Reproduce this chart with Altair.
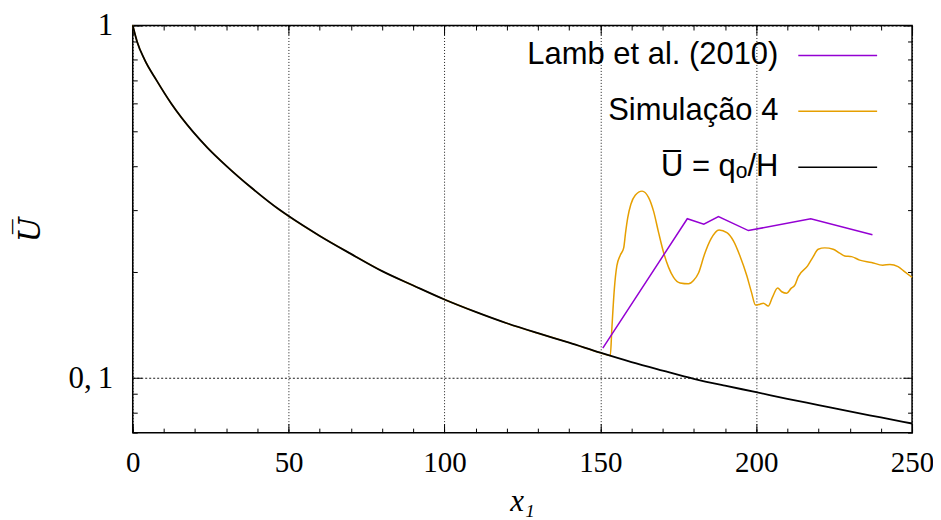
import altair as alt
import pandas as pd

# --- data ---
curve_x = [0, 1.4, 3.8, 7.6, 12.4, 19.3, 24, 30, 38, 47.1, 50, 60, 70, 80, 90, 100,
           110, 120, 130, 140, 150, 160, 170, 180, 190, 200, 210, 220, 230, 240, 250]
curve_u = [1.0, 0.9, 0.8, 0.7, 0.6, 0.5, 0.45, 0.4, 0.347, 0.3, 0.288, 0.253, 0.225, 0.201, 0.183,
           0.167, 0.154, 0.143, 0.134, 0.126, 0.118, 0.111, 0.105, 0.0995, 0.0951, 0.0912, 0.0873,
           0.0838, 0.0804, 0.0773, 0.0743]

sim_x = [0, 1.4, 3.8, 7.6, 12.4, 19.3, 24, 30, 38, 47.1, 50, 60, 70, 80, 90, 100,
         110, 120, 130, 140, 150,
         153.2, 153.7, 154.5, 155.3, 156.4, 157.5, 158.1, 158.8, 159.8, 161.2, 163.4, 165.5, 167.1,
         168.7, 170.3, 171.9, 173.5, 175.6, 178.3, 179.9, 181.5, 183.4, 185.5, 188.1, 190.6, 192.7,
         194.8, 197.0, 198.5, 199.8, 201.2, 202.3, 203.9, 205.2, 206.9, 208.2, 209.8, 211.2, 212.4,
         213.5, 216.5, 218.3, 219.9, 222.0, 224.7, 226.8, 228.4, 230.6, 233.2, 237.0, 240.6, 242.9,
         245.5, 247.7, 250]
sim_u = [1.0, 0.9, 0.8, 0.7, 0.6, 0.5, 0.45, 0.4, 0.347, 0.3, 0.288, 0.253, 0.225, 0.201, 0.183,
         0.167, 0.154, 0.143, 0.134, 0.126, 0.118,
         0.1158, 0.138, 0.179, 0.208, 0.223, 0.234, 0.2585, 0.285, 0.311, 0.330, 0.339, 0.325, 0.297,
         0.2585, 0.227, 0.206, 0.193, 0.186, 0.185, 0.189, 0.1985, 0.224, 0.248, 0.263, 0.2585, 0.245,
         0.222, 0.195, 0.175, 0.161, 0.162, 0.163, 0.160, 0.1694, 0.180, 0.1757, 0.174, 0.1796, 0.1834,
         0.194, 0.208, 0.221, 0.232, 0.234, 0.232, 0.226, 0.222, 0.221, 0.216, 0.2128, 0.209, 0.210,
         0.207, 0.200, 0.193]

lamb_x = [150.8, 177.9, 183.2, 187.9, 197.5, 217.5, 237.3]
lamb_u = [0.1216, 0.283, 0.273, 0.287, 0.262, 0.283, 0.255]

series_names = ["Lamb et al. (2010)", "Simulação 4", "U\u0305 = q\u2092/H"]
series_colors = ["#9400d3", "#e69f00", "#000000"]

x_major = [0, 50, 100, 150, 200, 250]
x_minor = list(range(0, 251, 10))
y_major = [0.1, 1]
y_minor = [0.07, 0.08, 0.09, 0.2, 0.3, 0.4, 0.5, 0.6, 0.7, 0.8, 0.9]

df_curve = pd.DataFrame({"x": curve_x, "u": curve_u, "s": series_names[2]})
df_sim = pd.DataFrame({"x": sim_x, "u": sim_u, "s": series_names[1]})
df_lamb = pd.DataFrame({"x": lamb_x, "u": lamb_u, "s": series_names[0]})

xs = alt.Scale(domain=[0, 250], nice=False, zero=False)
ys = alt.Scale(type="log", domain=[0.07, 1], nice=False)
cs = alt.Scale(domain=series_names, range=series_colors)

SERIF = "Liberation Serif"

legend = alt.Legend(
    title=None, orient="none", legendX=666, legendY=-10.5,
    symbolType="stroke", symbolSize=6241, symbolStrokeWidth=1.5,
    labelFont="Liberation Sans", labelFontSize=31, labelColor="black",
    labelAlign="right", labelOffset={"expr": "-100"}, labelLimit=600,
    rowPadding=-48.5, padding=0,
)

main_x_axis = alt.Axis(
    orient="bottom", values=x_major, format="d", ticks=False, tickSize=0, domain=False,
    labelFlush=False,
    grid=True, gridColor="black", gridDash=[1, 2], gridWidth=1, gridOpacity=0.9,
    labelFont=SERIF, labelFontSize=29, labelColor="black", labelPadding=16,
    title="x\u2081", titleFont=SERIF, titleFontSize=31, titleFontStyle="italic",
    titleFontWeight="normal", titleColor="black", titleX=390, titleY=78,
    titleBaseline="alphabetic", titleAlign="center",
)
main_y_axis = alt.Axis(
    orient="left", values=y_major, ticks=False, tickSize=0, domain=False,
    labelFlush=False,
    labelExpr="datum.value > 0.5 ? '1' : '0,\u20091'",
    grid=True, gridColor="black", gridDash=[2, 2], gridWidth=1, gridOpacity=0.9,
    labelFont=SERIF, labelFontSize=31, labelColor="black", labelPadding=20,
    title="U\u0305", titleFont="DejaVu Serif", titleFontSize=30, titleFontStyle="italic",
    titleFontWeight="normal", titleColor="black", titleAngle=270, titleX=-102, titleY=204,
    titleBaseline="middle", titleAlign="center",
)

sim = alt.Chart(df_sim).mark_line(strokeWidth=1.5, interpolate="monotone").encode(
    x=alt.X("x:Q", scale=xs, axis=main_x_axis),
    y=alt.Y("u:Q", scale=ys, axis=main_y_axis),
    color=alt.Color("s:N", scale=cs, legend=legend),
)


def tick_layer(xorient, yorient, xvals, yvals, size):
    common = dict(labels=False, domain=False, grid=False, ticks=True, tickColor="black",
                  tickWidth=1, title=None, offset=-size, tickSize=size)
    return alt.Chart(df_curve).mark_line(opacity=0).encode(
        x=alt.X("x:Q", scale=xs, axis=alt.Axis(orient=xorient, values=xvals, **common)),
        y=alt.Y("u:Q", scale=ys, axis=alt.Axis(orient=yorient, values=yvals, **common)),
    )


t1 = tick_layer("top", "right", x_major, y_major, 9)
t2 = tick_layer("bottom", "left", x_major, y_major, 9)
t3 = tick_layer("top", "right", x_minor, y_minor, 4.5)
t4 = tick_layer("bottom", "left", x_minor, y_minor, 4.5)

lamb = alt.Chart(df_lamb).mark_line(strokeWidth=1.5).encode(
    x=alt.X("x:Q", scale=xs, axis=None),
    y=alt.Y("u:Q", scale=ys, axis=None),
    color=alt.Color("s:N", scale=cs, legend=legend),
)
black = alt.Chart(df_curve).mark_line(strokeWidth=1.8, interpolate="monotone").encode(
    x=alt.X("x:Q", scale=xs, axis=None),
    y=alt.Y("u:Q", scale=ys, axis=None),
    color=alt.Color("s:N", scale=cs, legend=legend),
)

chart = alt.layer(sim, t1, t2, t3, t4, lamb, black).resolve_axis(
    x="independent", y="independent"
).properties(
    width=781, height=408,
    autosize=alt.AutoSizeParams(type="none"),
    padding={"left": 125, "top": 17, "right": 21, "bottom": 85},
    background="white",
).configure_view(stroke="black", strokeWidth=1.5)

chart.save("out.html", embed_options={"renderer": "svg", "actions": False})
